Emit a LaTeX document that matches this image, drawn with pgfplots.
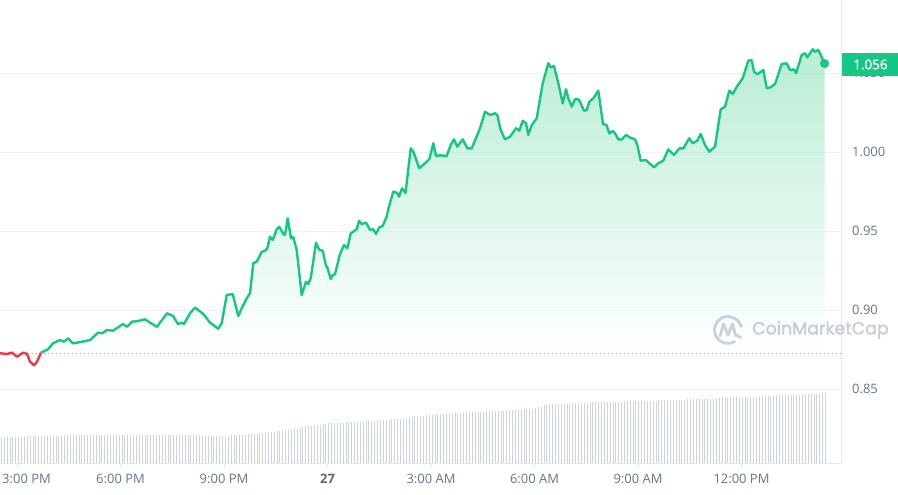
\documentclass[border=0pt]{standalone}
\usepackage{pgfplots}
\usepackage{pgfplotstable}
\pgfplotsset{compat=1.18}
\usepackage{fontspec}
\setmainfont{Open Sans}
\newfontfamily\wmfont{Poppins}[FakeBold=1.6]
\newfontfamily\semib{Open Sans}[FakeBold=1.2]
\definecolor{cmcgreen}{HTML}{16C784}
\definecolor{cmcred}{HTML}{EA3943}
\definecolor{labgray}{HTML}{66738A}
\definecolor{labdark}{HTML}{58667E}
\definecolor{gridc}{HTML}{F0F1F3}
\definecolor{axisc}{HTML}{E6E8EC}
\definecolor{volc}{HTML}{CDD3E3}
\definecolor{fillc}{RGB}{111,217,166}
\definecolor{wmc}{RGB}{155,165,190}
\newcommand\labfont{\fontsize{13}{15}\selectfont}

\pgfplotstableread{
h p
0.696 0.8730
0.899 0.8751
1.043 0.8789
1.246 0.8810
1.362 0.8799
1.478 0.8821
1.623 0.8789
1.884 0.8799
2.116 0.8810
2.348 0.8856
2.464 0.8853
2.609 0.8873
2.783 0.8869
3.072 0.8911
3.188 0.8894
3.333 0.8926
3.478 0.8929
3.710 0.8941
3.855 0.8920
4.058 0.8894
4.348 0.8979
4.522 0.8962
4.667 0.8911
4.783 0.8920
4.841 0.8911
5.014 0.8979
5.159 0.9015
5.400 0.8975
5.594 0.8920
5.835 0.8882
5.933 0.8916
6.078 0.9095
6.252 0.9101
6.414 0.8962
6.513 0.9011
6.658 0.9074
6.754 0.9106
6.849 0.9296
6.948 0.9306
7.093 0.9369
7.188 0.9375
7.255 0.9391
7.333 0.9464
7.412 0.9443
7.528 0.9511
7.603 0.9527
7.719 0.9481
7.768 0.9475
7.846 0.9580
7.942 0.9454
8.009 0.9460
8.107 0.9380
8.252 0.9095
8.377 0.9179
8.443 0.9165
8.513 0.9201
8.667 0.9426
8.762 0.9380
8.861 0.9375
8.957 0.9279
8.994 0.9270
9.093 0.9196
9.151 0.9222
9.217 0.9226
9.362 0.9354
9.478 0.9411
9.574 0.9391
9.672 0.9485
9.846 0.9511
9.913 0.9565
9.991 0.9544
10.116 0.9553
10.232 0.9506
10.328 0.9511
10.406 0.9481
10.501 0.9523
10.600 0.9532
10.716 0.9591
10.768 0.9644
10.907 0.9749
11.014 0.9742
11.072 0.9717
11.159 0.9770
11.261 0.9741
11.412 1.0023
11.487 1.0002
11.661 0.9897
11.826 0.9929
11.951 0.9954
12.067 1.0055
12.145 0.9975
12.261 0.9979
12.455 0.9975
12.571 1.0044
12.667 1.0080
12.762 1.0034
12.919 1.0080
13.052 1.0023
13.180 1.0023
13.420 1.0150
13.565 1.0255
13.710 1.0234
13.855 1.0245
13.922 1.0234
14.020 1.0139
14.145 1.0080
14.290 1.0097
14.464 1.0150
14.559 1.0135
14.658 1.0198
14.754 1.0182
14.820 1.0108
14.919 1.0171
15.064 1.0213
15.238 1.0435
15.400 1.0561
15.470 1.0536
15.565 1.0544
15.690 1.0435
15.817 1.0308
15.913 1.0397
15.980 1.0340
16.078 1.0287
16.174 1.0334
16.270 1.0334
16.319 1.0318
16.435 1.0261
16.513 1.0266
16.588 1.0318
16.704 1.0340
16.849 1.0388
16.986 1.0177
17.087 1.0171
17.168 1.0117
17.267 1.0133
17.333 1.0118
17.429 1.0080
17.528 1.0079
17.652 1.0108
17.783 1.0090
17.913 1.0080
17.980 1.0044
18.078 0.9945
18.232 0.9949
18.328 0.9929
18.464 0.9903
18.588 0.9929
18.733 0.9945
18.878 1.0017
19.043 0.9981
19.197 1.0023
19.313 1.0023
19.487 1.0087
19.586 1.0055
19.719 1.0072
19.817 1.0114
19.942 1.0044
20.067 1.0002
20.232 1.0034
20.397 1.0270
20.522 1.0287
20.646 1.0388
20.745 1.0367
20.878 1.0418
21.035 1.0467
21.197 1.0578
21.296 1.0582
21.362 1.0508
21.458 1.0492
21.632 1.0519
21.730 1.0403
21.846 1.0410
21.971 1.0430
22.165 1.0557
22.310 1.0561
22.406 1.0519
22.522 1.0523
22.580 1.0498
22.745 1.0614
22.841 1.0625
22.907 1.0599
23.064 1.0650
23.130 1.0635
23.226 1.0646
23.296 1.0614
23.406 1.0560
}\greendata

\begin{document}
\begin{tikzpicture}
\useasboundingbox (0bp,0bp) rectangle (898bp,495bp);
% volume bars
\begin{axis}[at={(0bp,32bp)}, anchor=south west, width=841.7bp, height=463bp,
  scale only axis, hide axis, xmin=-0.522, xmax=292.65, ymin=0, ymax=463]
\addplot[ycomb, volc, line width=1bp, mark=none] table[x expr=\coordindex, y index=0, header=false, row sep=\\] {
26\\26\\26\\26\\26\\26\\26\\26\\26\\
27\\27\\27\\27\\27\\27\\27\\27\\27\\27\\27\\27\\
28\\28\\28\\28\\28\\28\\28\\28\\28\\28\\28\\28\\28\\28\\28\\28\\28\\28\\28\\28\\28\\28\\28\\28\\28\\
28\\28\\28\\28\\28\\28\\28\\28\\28\\28\\28\\28\\28\\28\\28\\28\\28\\28\\28\\28\\28\\28\\28\\28\\
26.5\\26.5\\26.5\\26.5\\26.5\\26.5\\26.5\\26.5\\26.5\\26.5\\
28\\28\\28\\28\\28\\28\\
28.5\\28.5\\29\\29\\29.5\\30\\30\\30.5\\31\\31\\31.5\\32\\32.5\\32.5\\33\\33.5\\34\\34\\34.5\\
36\\36.5\\36.5\\37\\37.5\\37.5\\38\\38.5\\38.5\\
39.5\\39.5\\39.5\\40\\40\\40\\40.5\\40.5\\40.5\\41\\41\\41\\41.5\\41.5\\
42\\42\\42\\42.5\\42.5\\43\\43\\43\\43.5\\43.5\\43.5\\44\\44\\44\\
45.5\\46\\46.5\\46.5\\47\\47\\47.5\\48\\48\\
48.5\\48.5\\49\\49\\49\\49.5\\49.5\\49.5\\50\\50\\50\\50.5\\50.5\\50.5\\50.5\\
51\\51\\51\\51.5\\51.5\\51.5\\52\\52\\52\\52\\52.5\\52.5\\52.5\\53\\53\\53\\53.5\\53.5\\53.5\\54\\
55\\55.5\\56\\
57.5\\58\\58.5\\58.5\\
58.5\\58.5\\59\\59\\59\\59\\59.5\\59.5\\59.5\\60\\60\\60\\60\\60.5\\60.5\\60.5\\
60.5\\60.5\\61\\61\\61\\61\\61\\61\\61.5\\61.5\\61.5\\61.5\\61.5\\61.5\\62\\62\\62\\62\\62\\62\\62.5\\62.5\\62.5\\
62.5\\62.5\\63\\63\\63\\63\\63\\63.5\\63.5\\63.5\\63.5\\63.5\\
64\\64\\64\\64\\64\\64.5\\64.5\\64.5\\64.5\\64.5\\65\\
65.5\\65.5\\65.5\\65.5\\66\\66\\66\\66\\66\\66\\66.5\\66.5\\
67\\67\\67\\67.5\\67.5\\67.5\\67.5\\68\\68\\68\\68\\68\\
68.5\\68.5\\69\\69\\69\\69\\69\\69.5\\69.5\\
};
\end{axis}
% price chart
\begin{axis}[at={(0bp,32bp)}, anchor=south west, width=841.7bp, height=463bp,
  scale only axis,
  xmin=-0.4928, xmax=23.904, ymin=0.80316, ymax=1.0962,
  axis line style={draw=none},
  xtick pos=left, yticklabel pos=right,
  xtick={0,3,6,9,12,15,18,21},
  xticklabels={\hspace{19bp}3:00 PM,6:00 PM,9:00 PM,{\textcolor{labdark}{\bfseries 27}},3:00 AM,6:00 AM,9:00 AM,12:00 PM},
  ytick={0.85,0.9,0.95,1,1.05},
  yticklabels={0.85,0.90,0.95,1.000,1.050},
  ymajorgrids, grid style={gridc, line width=0.8bp},
  tick align=outside, major tick length=5bp,
  xtick style={axisc, line width=0.8bp},
  ytick style={draw=none},
  xticklabel style={font=\labfont, text=labgray, yshift=-3bp},
  yticklabel style={font=\labfont, text=labgray, anchor=west, xshift=2bp},
  clip mode=individual,
]
\draw[axisc, line width=0.8bp] (rel axis cs:0,0) -- (rel axis cs:1,0) -- (rel axis cs:1,1);
\addplot[draw=none, top color=fillc, bottom color=white, fill opacity=0.48]
  table[x=h, y=p] {\greendata} -- (axis cs:23.406,0.8722) -- (axis cs:0.696,0.8722) -- cycle;
\addplot[gray!70, line width=1bp, dash pattern=on 1bp off 3bp] coordinates {(-0.4928,0.8722) (23.904,0.8722)};
\addplot[cmcred, line width=2.4bp, line join=round] coordinates {
(-0.493,0.8726) (-0.290,0.8722) (-0.145,0.8730) (0,0.8704) (0.174,0.8730) (0.290,0.8722)
(0.377,0.8673) (0.493,0.8650) (0.580,0.8673) (0.696,0.8730)};
\addplot[cmcgreen, line width=2.4bp, line join=round] table[x=h, y=p] {\greendata};
\addplot[only marks, mark=*, mark size=4.3bp, cmcgreen] coordinates {(23.406,1.0560)};
\coordinate (pb) at (axis cs:23.904,1.0554);
\end{axis}
% current price tag
\node[fill=cmcgreen, text=white, anchor=west, minimum width=57bp, minimum height=23bp,
  inner sep=0pt, font=\semib\fontsize{13.5}{15}\selectfont] at (pb) {1.056};
% watermark
\begin{scope}[x=1bp, y=1bp]
\begin{scope}[draw=wmc, draw opacity=0.5, line width=2.8bp, line cap=round, line join=round]
\draw (728,165) ++(15:13.5) arc[start angle=15, end angle=300, radius=13.5];
\draw (720,159) -- (723.5,171) -- (728,160) -- (732.5,171) -- (735.5,160) -- (741,157.5);
\end{scope}
\node[anchor=west, inner sep=0pt, text=wmc, text opacity=0.5, font=\wmfont\fontsize{17.5}{20}\selectfont] at (752,165) {CoinMarketCap};
\end{scope}
\end{tikzpicture}
\end{document}
